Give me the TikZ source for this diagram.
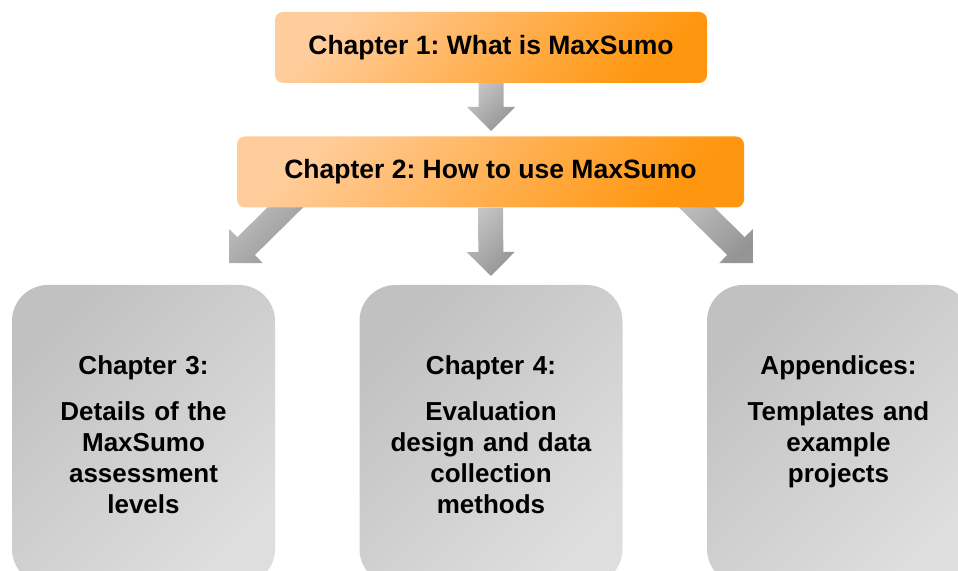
\documentclass[tikz,border=0pt]{standalone}
\usepackage{fontspec}
\setmainfont{Liberation Sans}
\usetikzlibrary{arrows.meta,backgrounds,calc}
\definecolor{peach}{HTML}{FFCD9C}
\definecolor{deeporange}{HTML}{FF960F}
\definecolor{graydark}{HTML}{C1C1C1}
\definecolor{graylight}{HTML}{DEDEDE}
\definecolor{arrowlight}{HTML}{C4C4C4}
\definecolor{arrowdark}{HTML}{959595}
\frenchspacing

\begin{document}
\begin{tikzpicture}[
    x = 1pt, y = 1pt,
    font = \fontsize{26}{31}\selectfont\bfseries,
    chapter/.style = {
        rounded corners = 8pt,
        top color = peach, bottom color = deeporange,
        shading angle = 45,
        minimum height = 71pt,
        font = \fontsize{26.5}{31}\selectfont\bfseries
    },
    part/.style = {
        rounded corners = 36pt,
        top color = graydark, bottom color = graylight,
        shading angle = 45,
        minimum width = 263pt, minimum height = 300pt,
        text width = 240pt, align = center, text depth = 139pt
    },
    flow/.style = {
        top color = arrowlight, bottom color = arrowdark,
        shading angle = 45
    }
]
\useasboundingbox (0,0) rectangle (958,570);
\clip (0,0) rectangle (958,570);

\node[chapter, minimum width = 432pt] (ch1) at (491,522.5) {Chapter 1: What is MaxSumo};
\node[chapter, minimum width = 507pt] (ch2) at (490.5,398) {Chapter 2: How to use MaxSumo};

\node[part] (ch3) at (143.5,135) {Chapter 3:\\[15pt]Details of the\\MaxSumo\\assessment\\levels};
\node[part] (ch4) at (491,135) {Chapter 4:\\[15pt]Evaluation\\design and data\\collection\\methods};
\node[part] (app) at (838.5,135) {Appendices:\\[15pt]Templates and\\example\\projects};

\coordinate (t12) at (491,439);
\coordinate (t23) at (491,294);
\coordinate (sl) at (303,380);
\coordinate (tl) at (229,307);
\coordinate (sr) at (679,380);
\coordinate (tr) at (753,307);

\begin{scope}[on background layer]
    \foreach \s/\t in {ch1.south/t12, sl/tl, ch2.south/t23, sr/tr} {
        \coordinate (b) at ($(\t)!24pt!(\s)$);
        \path[flow] ($(\s)!12.5pt!90:(\t)$) -- ($(b)!12.5pt!90:(\t)$)
            -- ($(b)!24pt!90:(\t)$) -- (\t) -- ($(b)!24pt!-90:(\t)$)
            -- ($(b)!12.5pt!-90:(\t)$) -- ($(\s)!12.5pt!-90:(\t)$) -- cycle;
    }
\end{scope}

\end{tikzpicture}
\end{document}
